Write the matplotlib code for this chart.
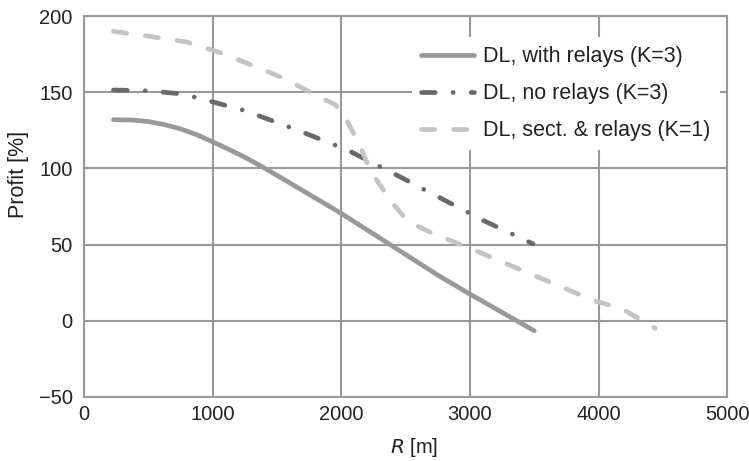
import numpy as np
import matplotlib.pyplot as plt

plt.rcParams['font.family'] = ['Liberation Sans', 'DejaVu Sans']

# DL, with relays (K=3)
r_relay = [230, 375, 500, 625, 750, 875, 1000, 1125, 1250, 1375, 1500, 1750, 2000,
           2250, 2500, 2750, 3000, 3250, 3500]
p_relay = [132, 131.8, 130.8, 128.8, 126, 122.2, 117.5, 112.6, 107.4, 101.6, 95.5, 83,
           70.5, 57, 43.5, 30, 17.5, 5.5, -6.6]

# DL, no relays (K=3)
r_norelay = [230, 500, 750, 900, 1250, 1650, 2050, 2400, 2750, 3100, 3490]
p_norelay = [151.5, 151, 149, 146, 138, 125.5, 112, 97, 81.5, 66, 50.5]

# DL, sect. & relays (K=1)
r_sect = [230, 490, 800, 1060, 1300, 1530, 1785, 1950, 2010, 2070, 2130, 2230, 2310,
          2400, 2490, 2560, 2720, 2960, 3240, 3660, 3970, 4180, 4440]
p_sect = [190, 187, 183, 176, 168, 160, 149, 142, 137, 127, 118, 98, 88,
          77, 68, 63.5, 57, 49, 39, 24, 13, 8, -5]

labels = ['DL, with relays (K=3)', 'DL, no relays (K=3)', 'DL, sect. & relays (K=1)']

fig = plt.figure(figsize=(7.49, 4.61), dpi=100)
ax = fig.add_axes([0.112, 0.139, 0.859, 0.826])

grid_c = '#999999'
txt_c = '#222222'
ax.plot(r_relay, p_relay, color='#999999', lw=3.4, solid_capstyle='round',
        solid_joinstyle='round', label=labels[0])
ax.plot(r_norelay, p_norelay, color='#6a6a6a', lw=3.4, dash_capstyle='round',
        dashes=(2.9, 3.8, 0.01, 3.8), label=labels[1])
ax.plot(r_sect, p_sect, color='#c4c4c4', lw=3.4, dash_capstyle='round',
        dash_joinstyle='round', dashes=(2.8, 4.0), label=labels[2])

ax.set_xlim(0, 5000)
ax.set_ylim(-50, 200)
ax.set_xticks(np.arange(0, 5001, 1000))
ax.set_yticks(np.arange(-50, 201, 50))
ax.set_yticklabels(['\u221250', '0', '50', '100', '150', '200'])
ax.grid(True, color=grid_c, lw=1.5)
ax.set_axisbelow(True)
for s in ax.spines.values():
    s.set_color(grid_c)
    s.set_linewidth(1.5)
ax.tick_params(length=0, labelsize=14.5, colors=txt_c)
ax.tick_params(axis='y', pad=8)
ax.tick_params(axis='x', pad=6)
ax.set_xlabel(r'$\it{R}$ [m]', fontsize=14.5, color=txt_c, va='center')
ax.xaxis.set_label_coords(0.513, -0.134)
ax.set_ylabel('Profit [%]', fontsize=15.5, color=txt_c, va='center')
ax.yaxis.set_label_coords(-0.101, 0.583)

leg = ax.legend(loc='upper left', bbox_to_anchor=(0.510, 0.945), fontsize=15.5,
                frameon=True, handlelength=2.45, handletextpad=0.45,
                borderaxespad=0, labelspacing=0.75, borderpad=0.42)
leg.get_frame().set_edgecolor('none')
leg.get_frame().set_facecolor('white')
leg.get_frame().set_alpha(1)
leg.get_frame().set_boxstyle('square', pad=0)
for t in leg.get_texts():
    t.set_color(txt_c)

fig.savefig('out.png', dpi=100)
